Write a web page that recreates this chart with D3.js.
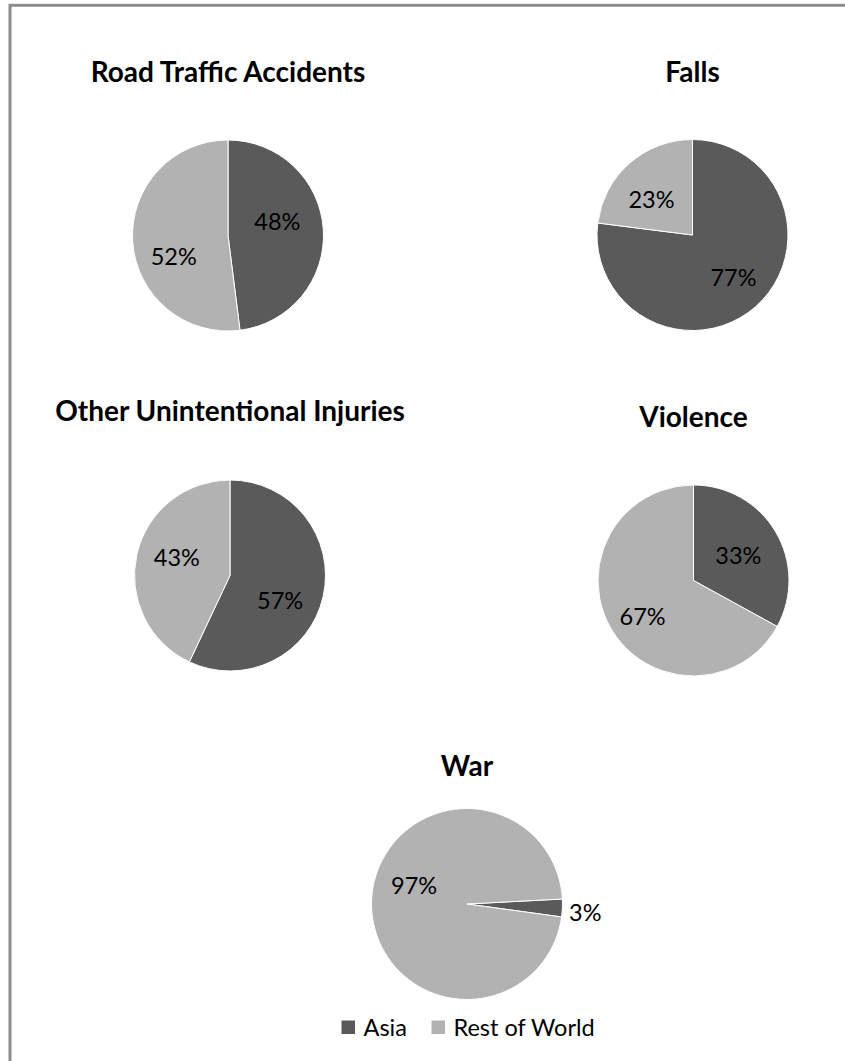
<!DOCTYPE html>
<html><head><meta charset="utf-8">
<script src="https://cdn.jsdelivr.net/npm/d3@7"></script>
<style>html,body{margin:0;padding:0;background:#fff}svg{display:block}</style>
</head><body>
<svg id="chart" width="845" height="1061"></svg>
<script>
// ---- data ----
const titles = ["Road Traffic Accidents", "Falls", "Other Unintentional Injuries", "Violence", "War"];
const seriesNames = ["Asia", "Rest of World"];
const asiaPct = [48, 77, 57, 33, 3];
const restPct = [52, 23, 43, 67, 97];
const firstSliceAngle = [0, 0, 0, 0, 87]; // degrees

// ---- layout ----
const layout = [
  {cx: 228, cy: 235.5, ty: 82, nudge: [[-5, -10], [0, 18]]},
  {cx: 692.5, cy: 235, ty: 82, nudge: [[5, 2], [-5, 6]]},
  {cx: 230, cy: 575.5, ty: 421, nudge: [[-3, 13], [0, -6]]},
  {cx: 693.5, cy: 580.5, ty: 427, nudge: [[-2, 2.5], [-4, 9]]},
  {cx: 467, cy: 904, ty: 776, nudge: [[0, 3.5], [1.5, -15.5]]}
];
const R = 95.5;
const colors = d3.scaleOrdinal().domain(seriesNames).range(["#5a5a5a", "#b2b2b2"]);
const FONT = "Lato, 'Open Sans', sans-serif";

const svg = d3.select("#chart");
// border (extends beyond canvas on right/bottom)
svg.append("rect").attr("x", 10).attr("y", 5.3).attr("width", 900).attr("height", 1100)
  .attr("fill", "none").attr("stroke", "#8c8c8c").attr("stroke-width", 3);

const arc = d3.arc().innerRadius(0).outerRadius(R);
const labelArc = d3.arc().innerRadius(R * 0.57).outerRadius(R * 0.57);
const outArc = d3.arc().innerRadius(R * 1.24).outerRadius(R * 1.24);

titles.forEach((t, i) => {
  const L = layout[i];
  const data = seriesNames.map((s, k) => ({name: s, value: k === 0 ? asiaPct[i] : restPct[i], k}));
  const a0 = firstSliceAngle[i] * Math.PI / 180;
  const pie = d3.pie().value(d => d.value).sort(null).startAngle(a0).endAngle(a0 + 2 * Math.PI);
  const arcs = pie(data);
  const g = svg.append("g").attr("transform", `translate(${L.cx},${L.cy})`);
  g.selectAll("path").data(arcs).join("path")
    .attr("d", arc).attr("fill", d => colors(d.data.name))
    .attr("stroke", "#fff").attr("stroke-width", 1);
  g.selectAll("text").data(arcs).join("text")
    .attr("transform", d => {
      const c = (d.data.value < 8 ? outArc : labelArc).centroid(d);
      const n = L.nudge[d.data.k];
      return `translate(${c[0] + n[0]},${c[1] + n[1]})`;
    })
    .attr("text-anchor", "middle").attr("dy", "0.35em")
    .attr("font-family", FONT).attr("font-size", 23.5).attr("fill", "#000")
    .text(d => d.data.value + "%");
  svg.append("text").attr("x", L.cx).attr("y", L.ty)
    .attr("text-anchor", "middle").attr("font-family", FONT)
    .attr("font-weight", "bold").attr("font-size", 28).attr("fill", "#000").text(t);
});

// legend
const legend = svg.append("g");
const legX = [341.5, 431.5];
seriesNames.forEach((s, k) => {
  legend.append("rect").attr("x", legX[k]).attr("y", 1020.5).attr("width", 13.5).attr("height", 13.5)
    .attr("fill", colors(s));
  legend.append("text").attr("x", legX[k] + 22).attr("y", 1036)
    .attr("font-family", FONT).attr("font-size", 23.5).attr("fill", "#000").text(s);
});
</script>
</body></html>
